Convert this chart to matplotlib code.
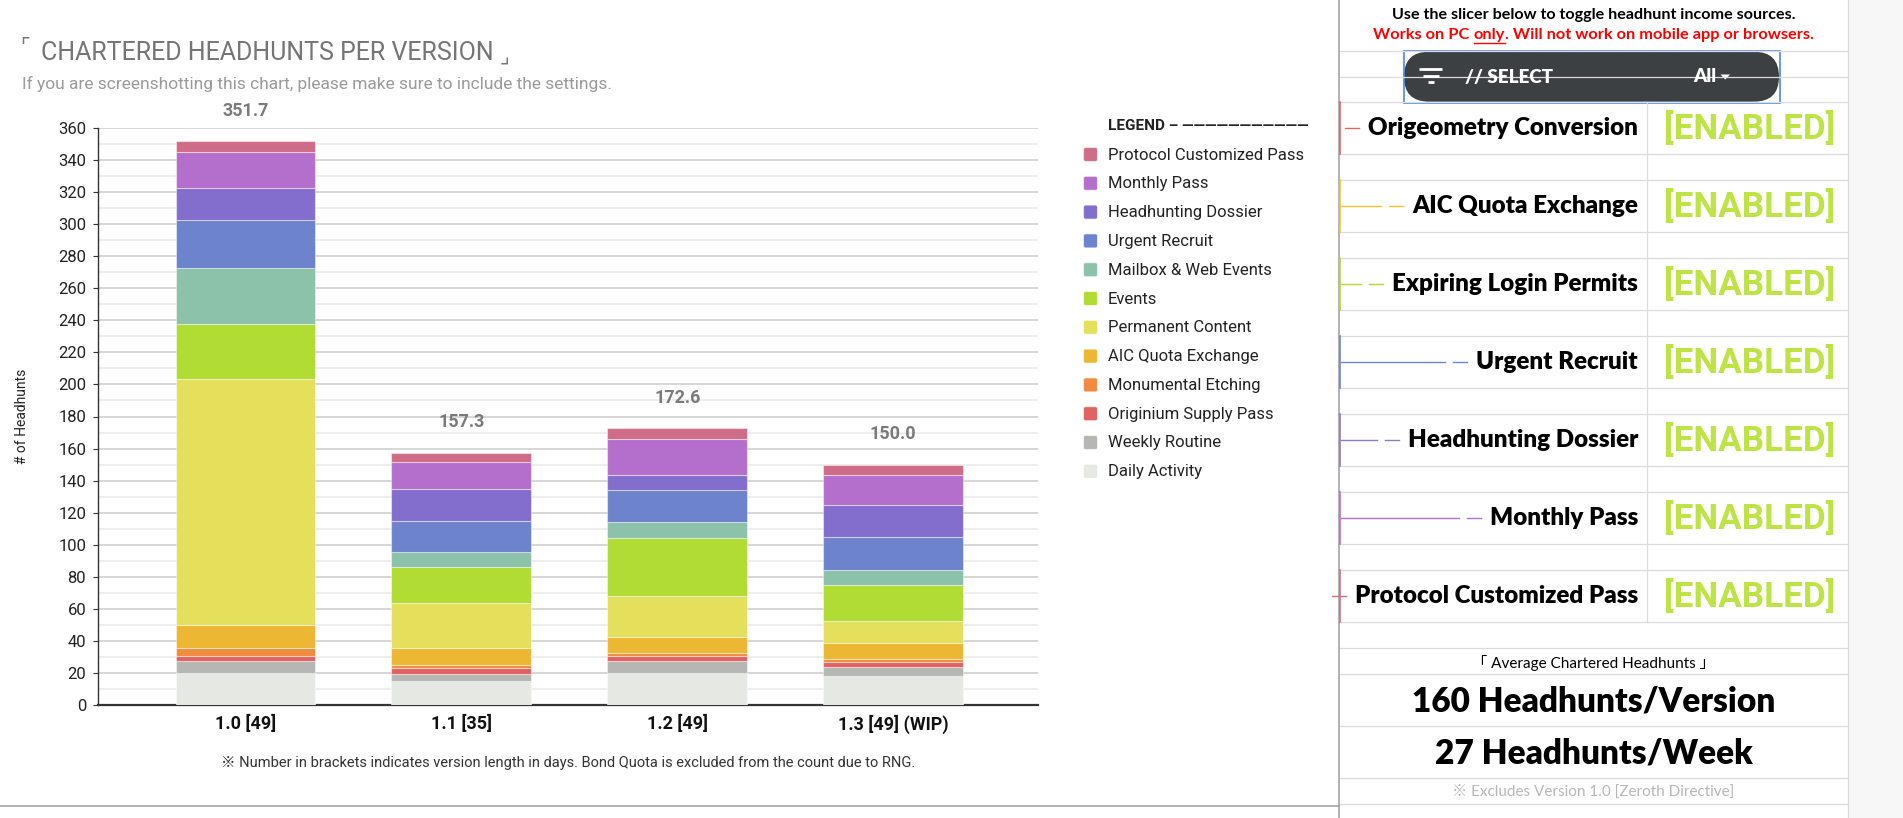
import numpy as np
import matplotlib.pyplot as plt
from matplotlib.patches import Rectangle, FancyBboxPatch, Polygon

plt.rcParams['font.family'] = ['Roboto', 'Noto Sans CJK JP', 'DejaVu Sans']

# ---- data (bottom -> top of stack) ----
versions = ["1.0 [49]", "1.1 [35]", "1.2 [49]", "1.3 [49] (WIP)"]
sources = ["Daily Activity", "Weekly Routine", "Originium Supply Pass", "Monumental Etching",
           "AIC Quota Exchange", "Permanent Content", "Events", "Mailbox & Web Events",
           "Urgent Recruit", "Headhunting Dossier", "Monthly Pass", "Protocol Customized Pass"]
daily_activity = [20.0, 15.0, 20.0, 18.2]
weekly_routine = [7.5, 4.6, 7.5, 5.4]
originium_pass = [2.8, 3.2, 2.8, 3.0]
monumental_etching = [5.0, 2.2, 2.4, 2.3]
aic_quota = [14.7, 10.3, 10.0, 9.9]
permanent_content = [153.3, 28.1, 25.3, 13.6]
events = [34.6, 22.5, 36.5, 22.4]
mailbox_web = [34.9, 9.3, 9.4, 9.4]
urgent_recruit = [29.6, 19.4, 20.2, 20.4]
headhunting_dossier = [20.2, 20.4, 9.2, 20.2]
monthly_pass = [22.4, 16.3, 22.9, 18.7]
protocol_pass = [6.7, 6.0, 6.4, 6.5]
series = [daily_activity, weekly_routine, originium_pass, monumental_etching, aic_quota,
          permanent_content, events, mailbox_web, urgent_recruit, headhunting_dossier,
          monthly_pass, protocol_pass]
colors = ["#e6e8e3", "#b6b6b4", "#e06262", "#f08c40", "#ecb733", "#e5e05c",
          "#b0dc34", "#8cc1aa", "#6d83cc", "#846ecd", "#b46fcc", "#cf6c88"]

toggles = ["Origeometry Conversion", "AIC Quota Exchange", "Expiring Login Permits",
           "Urgent Recruit", "Headhunting Dossier", "Monthly Pass", "Protocol Customized Pass"]
toggle_colors = ["#e06666", "#f1c232", "#b5d932", "#6d83cc", "#8e7cc3", "#b46fd6", "#d16f8a"]
avg_per_version = 160
avg_per_week = 27

W, H = 1903, 818
fig = plt.figure(figsize=(W / 100, H / 100), dpi=100)

# ---- stacked bars ----
ax = fig.add_axes([98 / W, (H - 705) / H, 940 / W, 577 / H])
x = np.arange(len(versions))
bottom = np.zeros(len(versions))
for name, vals, c in zip(sources, series, colors):
    ax.bar(x, vals, 0.648, bottom=bottom, color=c, edgecolor=(1, 1, 1, 0.45),
           linewidth=0.8, zorder=3, label=name)
    bottom += np.array(vals)
for xi, tot in zip(x, bottom):
    ax.annotate(f"{tot:.1f}", (xi, tot), xytext=(0, 22), textcoords='offset points',
                ha='center', va='center', fontsize=13, fontweight='bold', color='#7a7a7a')

ax.set_xlim(-0.683, 3.671)
ax.set_ylim(0, 360)
ax.set_yticks(np.arange(0, 361, 20))
ax.set_yticks(np.arange(0, 361, 10), minor=True)
ax.grid(which='major', axis='y', color='#cbcbcb', linewidth=1.1, zorder=0)
ax.grid(which='minor', axis='y', color='#e9e9e9', linewidth=1.1, zorder=0)
ax.set_axisbelow(True)
ax.tick_params(axis='y', which='major', length=3.5, color='#333333', labelsize=12,
               labelcolor='#222222', pad=5)
ax.tick_params(axis='y', which='minor', length=0)
ax.set_xticks(x)
ax.set_xticklabels(versions, fontsize=13, fontweight='bold', color='#111111')
ax.tick_params(axis='x', length=0, pad=7)
for s in ['top', 'right']:
    ax.spines[s].set_visible(False)
ax.spines['left'].set_color('#333333')
ax.spines['left'].set_linewidth(1.0)
ax.spines['bottom'].set_color('#333333')
ax.spines['bottom'].set_linewidth(1.6)
ax.set_ylabel("# of Headhunts", fontsize=10, color='#222222')
ax.yaxis.set_label_coords(-0.073, 0.5)

# ---- overlay in pixel coordinates ----
ov = fig.add_axes([0, 0, 1, 1])
ov.set_xlim(0, W)
ov.set_ylim(H, 0)
ov.axis('off')
ov.patch.set_visible(False)
renderer = fig.canvas.get_renderer()

# title with small corner brackets
ov.text(20, 47, "⌜", fontsize=15, color='#757575', va='center', family='DejaVu Sans')
t = ov.text(41, 53, "CHARTERED HEADHUNTS PER VERSION", fontsize=18, color='#757575', va='center')
tw = t.get_window_extent(renderer).width
ov.text(41 + tw + 6, 57.5, "⌟", fontsize=15, color='#757575', va='center', family='DejaVu Sans')
ov.text(22, 84, "If you are screenshotting this chart, please make sure to include the settings.",
        fontsize=12.5, color='#9a9a9a', va='center')
ov.text(568, 763, "※ Number in brackets indicates version length in days. "
        "Bond Quota is excluded from the count due to RNG.",
        fontsize=10.5, color='#333333', ha='center', va='center')
ov.plot([0, 1339], [805.5, 805.5], color='#9e9e9e', lw=1.1)

# legend
ov.text(1108, 126, "LEGEND – ———————————", fontsize=11, fontweight='bold', color='#222222',
        va='center')
for i, (name, c) in enumerate(zip(sources[::-1], colors[::-1])):
    yy = 155 + 28.8 * i
    ov.add_patch(FancyBboxPatch((1084, yy - 7), 13, 13, boxstyle="round,pad=0.5,rounding_size=2",
                                facecolor=c, edgecolor=(1, 1, 1, 0.6), lw=0.8))
    ov.text(1108, yy, name, fontsize=12, color='#222222', va='center')

# ---- right panel ----
px0, px1, pcol = 1339, 1848, 1647
ov.add_patch(Rectangle((px1, 0), W - px1, H, facecolor='#f6f7f6', edgecolor='none'))
row_lines = [50.7, 76.7, 102.3, 154.3, 180.3, 232.3, 258.3, 310.3, 336.3, 388.3, 414.3,
             466.3, 492.3, 544.3, 570.3, 622.3, 648.3, 674.3, 726.3, 778.3, 804.3]
for yl in row_lines:
    ov.plot([px0, px1], [yl, yl], color='#dcdcdc', lw=0.9)
ov.plot([pcol, pcol], [102.3, 622.3], color='#dcdcdc', lw=0.9)
ov.plot([px1, px1], [0, H], color='#dcdcdc', lw=0.9)
ov.plot([px0, px0], [0, H], color='#9e9e9e', lw=1.1)

cx = (px0 + px1) / 2
ov.text(cx, 15, "Use the slicer below to toggle headhunt income sources.", fontsize=11.6,
        fontweight='bold', color='black', ha='center', va='center', family='Lato')

parts = ["Works on PC ", "only", ". Will not work on mobile app or browsers."]
kw = dict(fontsize=11.8, fontweight='bold', color='#ff0000', va='center', family='Lato')
widths = []
for p in parts:
    tp = ov.text(0, 0, p, **kw)
    widths.append(tp.get_window_extent(renderer).width)
    tp.remove()
xs = cx - sum(widths) / 2
for p, w in zip(parts, widths):
    ov.text(xs, 35, p, **kw)
    if p == "only":
        ov.plot([xs, xs + w], [42.5, 42.5], color='#ff0000', lw=1)
    xs += w

# slicer
ov.add_patch(FancyBboxPatch((1404, 51.7), 375, 50, boxstyle="round,pad=0,rounding_size=25",
                            facecolor='#3c4043', edgecolor='none'))
ov.add_patch(Rectangle((1403.5, 51), 376, 51.5, fill=False, edgecolor='#4a86e8', lw=1.2))
for yy, a, b in [(69.3, 1419, 1442), (75.5, 1422.5, 1438.5), (82.2, 1428, 1433.5)]:
    ov.plot([a, b], [yy, yy], color='white', lw=2, solid_capstyle='butt')
ov.text(1465, 77, "// SELECT", fontsize=13.5, fontweight='heavy', color='white', va='center',
        family='Lato')
ov.text(1693, 77, "All", fontsize=13.5, fontweight='heavy', color='white', va='center',
        family='Lato')
ov.add_patch(Polygon([(1720.5, 74.5), (1730, 74.5), (1725.25, 79.5)], closed=True,
                     facecolor='white', edgecolor='none'))

# toggle rows
for i, (name, c) in enumerate(zip(toggles, toggle_colors)):
    top = 102.3 + 78 * i
    yc = top + 26
    ov.plot([px0 + 1.2, px0 + 1.2], [top, top + 52], color=c, lw=1.2)
    tt = ov.text(1638, yc, name, fontsize=17.4, fontweight='heavy', color='black', ha='right',
                 va='center', family='Lato')
    left = 1638 - tt.get_window_extent(renderer).width
    ov.plot([left - 23, left - 9], [yc, yc], color=c, lw=1)
    if left - 31 > px0 + 2:
        ov.plot([px0 + 2, left - 31], [yc, yc], color=c, lw=1)
    ov.text(1664, yc, "[ENABLED]", fontsize=25.2, fontweight='bold', color='#bde344',
            va='center')

# averages
ov.text(cx, 662.7, "「 Average Chartered Headhunts 」", fontsize=11, color='black',
        ha='center', va='center', family=['Lato', 'Noto Sans CJK JP'])
ov.text(cx, 701.7, f"{avg_per_version} Headhunts/Version", fontsize=24, fontweight='heavy',
        color='black', ha='center', va='center', family='Lato')
ov.text(cx, 753.3, f"{avg_per_week} Headhunts/Week", fontsize=24, fontweight='heavy',
        color='black', ha='center', va='center', family='Lato')
ov.text(cx, 792.3, "※ Excludes Version 1.0 [Zeroth Directive]", fontsize=11, color='#b7b7b7',
        ha='center', va='center', family=['Lato', 'Noto Sans CJK JP'])

fig.savefig("out.png", dpi=100)
